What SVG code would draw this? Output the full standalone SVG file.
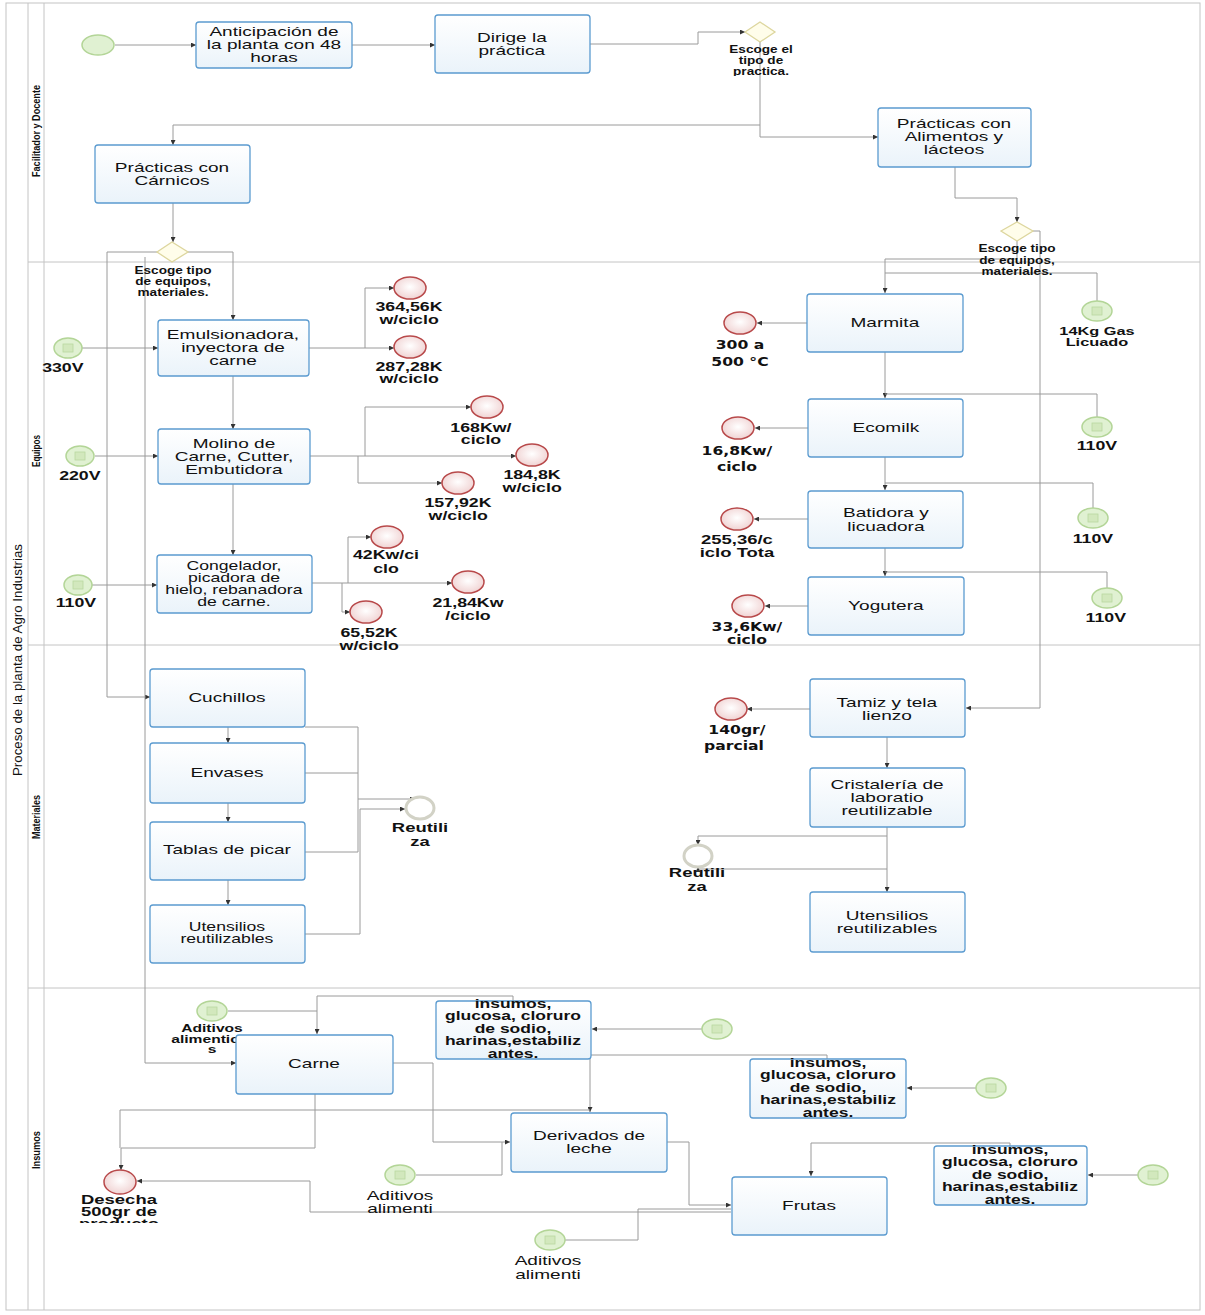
<svg xmlns="http://www.w3.org/2000/svg" width="1205" height="1315" viewBox="0 0 1205 1315">
<defs>
<style>
.lane{fill:none;stroke:#c4c4c4;stroke-width:1}
.task{fill:url(#tg);stroke:#5b9bd0;stroke-width:1.3}
.tt,.tb,.lb,.lv,.gl{transform-box:fill-box;transform-origin:center}
.tt{font-family:"Liberation Sans",Arial,sans-serif;font-size:13.5px;fill:#111;text-anchor:middle;transform:scaleX(1.41)}
.tb{font-family:"Liberation Sans",Arial,sans-serif;font-size:12.5px;font-weight:bold;fill:#111;text-anchor:middle;transform:scaleX(1.4)}
.lb{font-family:"Liberation Sans",Arial,sans-serif;font-size:12.5px;font-weight:bold;fill:#111;text-anchor:middle;transform:scaleX(1.42)}
.lv{font-family:"DejaVu Sans",Verdana,sans-serif;font-size:12.5px;font-weight:bold;fill:#111;text-anchor:middle;transform:scaleX(1.25)}
.gl{font-family:"Liberation Sans",Arial,sans-serif;font-size:10px;font-weight:bold;fill:#111;text-anchor:middle;transform:scaleX(1.36)}
.ln{font-family:"Liberation Sans",Arial,sans-serif;font-size:10px;font-weight:bold;fill:#111;text-anchor:middle}
.pl{font-family:"Liberation Sans",Arial,sans-serif;font-size:13px;fill:#111;text-anchor:middle}
.ge{fill:#e0f1d2;stroke:#b3d597;stroke-width:1.5}
.gi{fill:#d2e8bd;stroke:#b9d8a0;stroke-width:0.8}
.re{fill:url(#rg);stroke:#b8494a;stroke-width:1.5}
.gw{fill:#fffdea;stroke:#ddd69e;stroke-width:1.3}
.ru{fill:#fff;stroke:#d2d2c6;stroke-width:3}
.c{fill:none;stroke:#9a9a9a;stroke-width:1}
</style>
<linearGradient id="tg" x1="0" y1="0" x2="0" y2="1"><stop offset="0" stop-color="#ffffff"/><stop offset="1" stop-color="#eaf3fa"/></linearGradient>
<radialGradient id="rg" cx="0.5" cy="0.45" r="0.6"><stop offset="0" stop-color="#ffffff"/><stop offset="1" stop-color="#efcfcf"/></radialGradient>
<marker id="a" viewBox="0 0 6 6" refX="6" refY="3" markerWidth="5" markerHeight="5" orient="auto"><path d="M0,0 L6,3 L0,6 z" fill="#333"/></marker>
<clipPath id="cd"><rect x="50" y="1150" width="140" height="73"/></clipPath>
<clipPath id="cg1"><rect x="700" y="20" width="120" height="56"/></clipPath>
</defs>
<rect width="1205" height="1315" fill="#ffffff"/>

<g id="pool">
<rect class="lane" x="6" y="3" width="1194" height="1307"/>
<line class="lane" x1="28" y1="3" x2="28" y2="1310"/>
<line class="lane" x1="44" y1="3" x2="44" y2="1310"/>
<line class="lane" x1="28" y1="262" x2="1200" y2="262"/>
<line class="lane" x1="28" y1="645" x2="1200" y2="645"/>
<line class="lane" x1="28" y1="988" x2="1200" y2="988"/>
<text class="pl" transform="translate(22,660) rotate(-90)" textLength="232" lengthAdjust="spacingAndGlyphs">Proceso de la planta de Agro Industrias</text>
<text class="ln" transform="translate(40,131) rotate(-90)" textLength="92" lengthAdjust="spacingAndGlyphs">Facilitador y Docente</text>
<text class="ln" transform="translate(40,451) rotate(-90)" textLength="32" lengthAdjust="spacingAndGlyphs">Equipos</text>
<text class="ln" transform="translate(40,817) rotate(-90)" textLength="44" lengthAdjust="spacingAndGlyphs">Materiales</text>
<text class="ln" transform="translate(40,1150) rotate(-90)" textLength="38" lengthAdjust="spacingAndGlyphs">Insumos</text>
</g>

<g id="connectors">
<path class="c" d="M115,45 H196" marker-end="url(#a)"/>
<path class="c" d="M352,45 H435" marker-end="url(#a)"/>
<path class="c" d="M590,44 H698 V32 H745" marker-end="url(#a)"/>
<path class="c" d="M760,42 V137 H878" marker-end="url(#a)"/>
<path class="c" d="M760,125 H173 V145" marker-end="url(#a)"/>
<path class="c" d="M173,203 V242" marker-end="url(#a)"/>
<path class="c" d="M955,167 V198 H1017 V222" marker-end="url(#a)"/>
<path class="c" d="M157,252 H107 V697 H150" marker-end="url(#a)"/>
<path class="c" d="M188,252 H233 V320" marker-end="url(#a)"/>
<path class="c" d="M145,257 V1063 H236" marker-end="url(#a)"/>
<path class="c" d="M82,348 H158" marker-end="url(#a)"/>
<path class="c" d="M95,456 H158" marker-end="url(#a)"/>
<path class="c" d="M92,585 H157" marker-end="url(#a)"/>
<path class="c" d="M233,376 V429" marker-end="url(#a)"/>
<path class="c" d="M233,484 V555" marker-end="url(#a)"/>
<path class="c" d="M309,348 H394" marker-end="url(#a)"/>
<path class="c" d="M365,348 V288 H394" marker-end="url(#a)"/>
<path class="c" d="M310,456 H516" marker-end="url(#a)"/>
<path class="c" d="M365,456 V407 H471" marker-end="url(#a)"/>
<path class="c" d="M358,456 V483 H442" marker-end="url(#a)"/>
<path class="c" d="M312,583 H452" marker-end="url(#a)"/>
<path class="c" d="M348,583 V537 H371" marker-end="url(#a)"/>
<path class="c" d="M342,583 V612 H350" marker-end="url(#a)"/>
<path class="c" d="M1017,241 V259 H885 V293" marker-end="url(#a)"/>
<path class="c" d="M1033,231 H1040 V708 H966" marker-end="url(#a)"/>
<path class="c" d="M1097,301 V273 H885"/>
<path class="c" d="M807,323 H757" marker-end="url(#a)"/>
<path class="c" d="M885,352 V398" marker-end="url(#a)"/>
<path class="c" d="M1097,417 V394 H885"/>
<path class="c" d="M808,428 H755" marker-end="url(#a)"/>
<path class="c" d="M885,457 V490" marker-end="url(#a)"/>
<path class="c" d="M1093,508 V483 H885"/>
<path class="c" d="M808,519 H754" marker-end="url(#a)"/>
<path class="c" d="M885,548 V576" marker-end="url(#a)"/>
<path class="c" d="M1107,588 V572 H885"/>
<path class="c" d="M808,606 H765" marker-end="url(#a)"/>
<path class="c" d="M228,727 V743" marker-end="url(#a)"/>
<path class="c" d="M228,803 V822" marker-end="url(#a)"/>
<path class="c" d="M228,880 V905" marker-end="url(#a)"/>
<path class="c" d="M305,727 H358 V799 H415" marker-end="url(#a)"/>
<path class="c" d="M305,773 H358"/>
<path class="c" d="M305,852 H358 V799"/>
<path class="c" d="M305,934 H360 V809 H405" marker-end="url(#a)"/>
<path class="c" d="M810,709 H747" marker-end="url(#a)"/>
<path class="c" d="M887,737 V768" marker-end="url(#a)"/>
<path class="c" d="M887,827 V892" marker-end="url(#a)"/>
<path class="c" d="M887,836 H698 V845" marker-end="url(#a)"/>
<path class="c" d="M887,869 H698 V867" marker-end="url(#a)"/>
<path class="c" d="M228,1011 H317"/>
<path class="c" d="M513,1001 V996 H317 V1034" marker-end="url(#a)"/>
<path class="c" d="M702,1029 H592" marker-end="url(#a)"/>
<path class="c" d="M976,1088 H907" marker-end="url(#a)"/>
<path class="c" d="M1138,1175 H1088" marker-end="url(#a)"/>
<path class="c" d="M1010,1146 V1143 H811 V1176" marker-end="url(#a)"/>
<path class="c" d="M827,1059 V1055 H590 V1112" marker-end="url(#a)"/>
<path class="c" d="M590,1110 H120 V1148"/>
<path class="c" d="M315,1094 V1148 H121 V1170" marker-end="url(#a)"/>
<path class="c" d="M393,1063 H433 V1142 H510" marker-end="url(#a)"/>
<path class="c" d="M416,1175 H502 V1142"/>
<path class="c" d="M667,1142 H689 V1205 H731" marker-end="url(#a)"/>
<path class="c" d="M565,1240 H638 V1209 H731"/>
<path class="c" d="M731,1212 H310 V1181 H137" marker-end="url(#a)"/>
</g>

<g id="start"><ellipse class="ge" cx="98" cy="45" rx="16" ry="10"/></g>

<g id="t-anticipacion"><rect class="task" x="196" y="22" width="156" height="46" rx="3"/>
<text class="tt" x="274" y="36">Anticipación de</text><text class="tt" x="274" y="49">la planta con 48</text><text class="tt" x="274" y="62">horas</text></g>

<g id="t-dirige"><rect class="task" x="435" y="15" width="155" height="58" rx="3"/>
<text class="tt" x="512" y="42">Dirige la</text><text class="tt" x="512" y="55">práctica</text></g>

<g id="gw1"><path class="gw" d="M745,32 L760,22 L775,32 L760,42 Z"/>
<g clip-path="url(#cg1)"><text class="gl" x="761" y="53">Escoge el</text><text class="gl" x="761" y="64">tipo de</text><text class="gl" x="761" y="75">practica.</text></g></g>

<g id="t-carnicos"><rect class="task" x="95" y="145" width="155" height="58" rx="3"/>
<text class="tt" x="172" y="172">Prácticas con</text><text class="tt" x="172" y="185">Cárnicos</text></g>

<g id="t-alimentos"><rect class="task" x="878" y="108" width="153" height="59" rx="3"/>
<text class="tt" x="954" y="128">Prácticas con</text><text class="tt" x="954" y="141">Alimentos y</text><text class="tt" x="954" y="154">lácteos</text></g>

<g id="gw2"><path class="gw" d="M157,252 L172,242 L188,252 L172,262 Z"/>
<text class="gl" x="173" y="274">Escoge tipo</text><text class="gl" x="173" y="285">de equipos,</text><text class="gl" x="173" y="296">materiales.</text></g>

<g id="gw3"><path class="gw" d="M1001,231 L1017,222 L1033,231 L1017,241 Z"/>
<text class="gl" x="1017" y="252">Escoge tipo</text><text class="gl" x="1017" y="264">de equipos,</text><text class="gl" x="1017" y="275">materiales.</text></g>

<g id="e-330"><ellipse class="ge" cx="68" cy="348" rx="14" ry="10"/><rect class="gi" x="63" y="344" width="10" height="8"/>
<text class="lb" x="63" y="372">330V</text></g>
<g id="e-220"><ellipse class="ge" cx="80" cy="456" rx="14" ry="10"/><rect class="gi" x="75" y="452" width="10" height="8"/>
<text class="lb" x="80" y="480">220V</text></g>
<g id="e-110a"><ellipse class="ge" cx="78" cy="585" rx="14" ry="10"/><rect class="gi" x="73" y="581" width="10" height="8"/>
<text class="lb" x="76" y="607">110V</text></g>

<g id="t-emulsionadora"><rect class="task" x="158" y="320" width="151" height="56" rx="3"/>
<text class="tt" x="233" y="339">Emulsionadora,</text><text class="tt" x="233" y="352">inyectora de</text><text class="tt" x="233" y="365">carne</text></g>
<g id="t-molino"><rect class="task" x="158" y="429" width="152" height="55" rx="3"/>
<text class="tt" x="234" y="448">Molino de</text><text class="tt" x="234" y="461">Carne, Cutter,</text><text class="tt" x="234" y="474">Embutidora</text></g>
<g id="t-congelador"><rect class="task" x="157" y="555" width="155" height="58" rx="3"/>
<text class="tt" x="234" y="570" style="font-size:12.5px">Congelador,</text><text class="tt" x="234" y="582" style="font-size:12.5px">picadora de</text><text class="tt" x="234" y="594" style="font-size:12.5px">hielo, rebanadora</text><text class="tt" x="234" y="606" style="font-size:12.5px">de carne.</text></g>

<g id="r-364"><ellipse class="re" cx="410" cy="288" rx="16" ry="11"/><text class="lb" x="409" y="311">364,56K</text><text class="lb" x="409" y="324">w/ciclo</text></g>
<g id="r-287"><ellipse class="re" cx="410" cy="347" rx="16" ry="11"/><text class="lb" x="409" y="371">287,28K</text><text class="lb" x="409" y="383">w/ciclo</text></g>
<g id="r-168"><ellipse class="re" cx="487" cy="407" rx="16" ry="11"/><text class="lb" x="481" y="432">168Kw/</text><text class="lb" x="481" y="444">ciclo</text></g>
<g id="r-184"><ellipse class="re" cx="532" cy="455" rx="16" ry="11"/><text class="lb" x="532" y="479">184,8K</text><text class="lb" x="532" y="492">w/ciclo</text></g>
<g id="r-157"><ellipse class="re" cx="458" cy="483" rx="16" ry="11"/><text class="lb" x="458" y="507">157,92K</text><text class="lb" x="458" y="520">w/ciclo</text></g>
<g id="r-42"><ellipse class="re" cx="387" cy="537" rx="16" ry="11"/><text class="lb" x="386" y="559">42Kw/ci</text><text class="lb" x="386" y="573">clo</text></g>
<g id="r-21"><ellipse class="re" cx="468" cy="582" rx="16" ry="11"/><text class="lb" x="468" y="607">21,84Kw</text><text class="lb" x="468" y="620">/ciclo</text></g>
<g id="r-65"><ellipse class="re" cx="366" cy="612" rx="16" ry="11"/><text class="lb" x="369" y="637">65,52K</text><text class="lb" x="369" y="650">w/ciclo</text></g>

<g id="t-marmita"><rect class="task" x="807" y="294" width="156" height="58" rx="3"/><text class="tt" x="885" y="327">Marmita</text></g>
<g id="t-ecomilk"><rect class="task" x="808" y="399" width="155" height="58" rx="3"/><text class="tt" x="886" y="432">Ecomilk</text></g>
<g id="t-batidora"><rect class="task" x="808" y="491" width="155" height="57" rx="3"/><text class="tt" x="886" y="517">Batidora y</text><text class="tt" x="886" y="531">licuadora</text></g>
<g id="t-yogutera"><rect class="task" x="808" y="577" width="156" height="58" rx="3"/><text class="tt" x="886" y="610">Yogutera</text></g>

<g id="r-300"><ellipse class="re" cx="740" cy="323" rx="16" ry="11"/><text class="lv" x="740" y="349">300 a</text><text class="lv" x="740" y="366">500 °C</text></g>
<g id="r-16"><ellipse class="re" cx="738" cy="428" rx="16" ry="11"/><text class="lv" x="737" y="455">16,8Kw/</text><text class="lv" x="737" y="471">ciclo</text></g>
<g id="r-255"><ellipse class="re" cx="737" cy="519" rx="16" ry="11"/><text class="lb" x="737" y="544" style="font-size:13px">255,36/c</text><text class="lb" x="737" y="557" style="font-size:13px">iclo Tota</text></g>
<g id="r-33"><ellipse class="re" cx="748" cy="606" rx="16" ry="11"/><text class="lv" x="747" y="631">33,6Kw/</text><text class="lv" x="747" y="644">ciclo</text></g>

<g id="e-gas"><ellipse class="ge" cx="1097" cy="311" rx="15" ry="10"/><rect class="gi" x="1092" y="307" width="10" height="8"/>
<text class="lb" x="1097" y="335" style="font-size:11.5px">14Kg Gas</text><text class="lb" x="1097" y="346" style="font-size:11.5px">Licuado</text></g>
<g id="e-110b"><ellipse class="ge" cx="1097" cy="427" rx="15" ry="10"/><rect class="gi" x="1092" y="423" width="10" height="8"/><text class="lb" x="1097" y="450">110V</text></g>
<g id="e-110c"><ellipse class="ge" cx="1093" cy="518" rx="15" ry="10"/><rect class="gi" x="1088" y="514" width="10" height="8"/><text class="lb" x="1093" y="543">110V</text></g>
<g id="e-110d"><ellipse class="ge" cx="1107" cy="598" rx="15" ry="10"/><rect class="gi" x="1102" y="594" width="10" height="8"/><text class="lb" x="1106" y="622">110V</text></g>

<g id="t-cuchillos"><rect class="task" x="150" y="669" width="155" height="58" rx="3"/><text class="tt" x="227" y="702">Cuchillos</text></g>
<g id="t-envases"><rect class="task" x="150" y="743" width="155" height="60" rx="3"/><text class="tt" x="227" y="777">Envases</text></g>
<g id="t-tablas"><rect class="task" x="150" y="822" width="155" height="58" rx="3"/><text class="tt" x="227" y="854">Tablas de picar</text></g>
<g id="t-utensilios1"><rect class="task" x="150" y="905" width="155" height="58" rx="3"/><text class="tt" x="227" y="931" style="font-size:12.5px">Utensilios</text><text class="tt" x="227" y="943" style="font-size:12.5px">reutilizables</text></g>
<g id="e-reutiliza1"><ellipse class="ru" cx="420" cy="808" rx="14" ry="11"/><text class="lb" x="420" y="832" style="font-size:13px">Reutili</text><text class="lb" x="420" y="846" style="font-size:13px">za</text></g>

<g id="t-tamiz"><rect class="task" x="810" y="679" width="155" height="58" rx="3"/><text class="tt" x="887" y="707">Tamiz y tela</text><text class="tt" x="887" y="720">lienzo</text></g>
<g id="r-140"><ellipse class="re" cx="731" cy="709" rx="16" ry="11"/><text class="lv" x="737" y="734">140gr/</text><text class="lv" x="734" y="750">parcial</text></g>
<g id="t-cristaleria"><rect class="task" x="810" y="768" width="155" height="59" rx="3"/><text class="tt" x="887" y="789">Cristalería de</text><text class="tt" x="887" y="802">laboratio</text><text class="tt" x="887" y="815">reutilizable</text></g>
<g id="t-utensilios2"><rect class="task" x="810" y="892" width="155" height="60" rx="3"/><text class="tt" x="887" y="920">Utensilios</text><text class="tt" x="887" y="933">reutilizables</text></g>
<g id="e-reutiliza2"><ellipse class="ru" cx="698" cy="856" rx="14" ry="11"/><text class="lb" x="697" y="877" style="font-size:13px">Reutili</text><text class="lb" x="697" y="891" style="font-size:13px">za</text></g>

<g id="e-aditivos1"><ellipse class="ge" cx="212" cy="1011" rx="15" ry="10"/><rect class="gi" x="207" y="1007" width="10" height="8"/>
<text class="lb" x="212" y="1032" style="font-size:11px">Aditivos</text><text class="lb" x="212" y="1043" style="font-size:11px">alimenticio</text><text class="lb" x="212" y="1053" style="font-size:11px">s</text></g>
<g id="t-carne"><rect class="task" x="236" y="1035" width="157" height="59" rx="3"/><text class="tt" x="314" y="1068">Carne</text></g>
<g id="t-insumos1"><rect class="task" x="436" y="1001" width="155" height="58" rx="3"/>
<text class="tb" x="513" y="1008">insumos,</text><text class="tb" x="513" y="1020.5">glucosa,  cloruro</text><text class="tb" x="513" y="1033">de sodio,</text><text class="tb" x="513" y="1045.5">harinas,estabiliz</text><text class="tb" x="513" y="1058">antes.</text></g>
<g id="e-ins1"><ellipse class="ge" cx="717" cy="1029" rx="15" ry="10"/><rect class="gi" x="712" y="1025" width="10" height="8"/></g>
<g id="t-insumos2"><rect class="task" x="750" y="1059" width="156" height="59" rx="3"/>
<text class="tb" x="828" y="1067">insumos,</text><text class="tb" x="828" y="1079.5">glucosa,  cloruro</text><text class="tb" x="828" y="1092">de sodio,</text><text class="tb" x="828" y="1104.5">harinas,estabiliz</text><text class="tb" x="828" y="1117">antes.</text></g>
<g id="e-ins2"><ellipse class="ge" cx="991" cy="1088" rx="15" ry="10"/><rect class="gi" x="986" y="1084" width="10" height="8"/></g>
<g id="t-insumos3"><rect class="task" x="934" y="1146" width="153" height="59" rx="3"/>
<text class="tb" x="1010" y="1154">insumos,</text><text class="tb" x="1010" y="1166.5">glucosa,  cloruro</text><text class="tb" x="1010" y="1179">de sodio,</text><text class="tb" x="1010" y="1191.5">harinas,estabiliz</text><text class="tb" x="1010" y="1204">antes.</text></g>
<g id="e-ins3"><ellipse class="ge" cx="1153" cy="1175" rx="15" ry="10"/><rect class="gi" x="1148" y="1171" width="10" height="8"/></g>
<g id="t-derivados"><rect class="task" x="511" y="1113" width="156" height="59" rx="3"/><text class="tt" x="589" y="1140">Derivados de</text><text class="tt" x="589" y="1153">leche</text></g>
<g id="t-frutas"><rect class="task" x="732" y="1177" width="155" height="58" rx="3"/><text class="tt" x="809" y="1210">Frutas</text></g>
<g id="r-desecha"><ellipse class="re" cx="120" cy="1182" rx="16" ry="12"/>
<g clip-path="url(#cd)"><text class="lb" x="119" y="1204" style="font-size:13px">Desecha</text><text class="lb" x="119" y="1216" style="font-size:13px">500gr de</text><text class="lb" x="119" y="1228" style="font-size:13px">producto</text></g></g>
<g id="e-aditivos2"><ellipse class="ge" cx="400" cy="1175" rx="15" ry="10"/><rect class="gi" x="395" y="1171" width="10" height="8"/>
<text class="tt" x="400" y="1200">Aditivos</text><text class="tt" x="400" y="1213">alimenti</text></g>
<g id="e-aditivos3"><ellipse class="ge" cx="550" cy="1240" rx="15" ry="10"/><rect class="gi" x="545" y="1236" width="10" height="8"/>
<text class="tt" x="548" y="1265">Aditivos</text><text class="tt" x="548" y="1279">alimenti</text></g>
</svg>
